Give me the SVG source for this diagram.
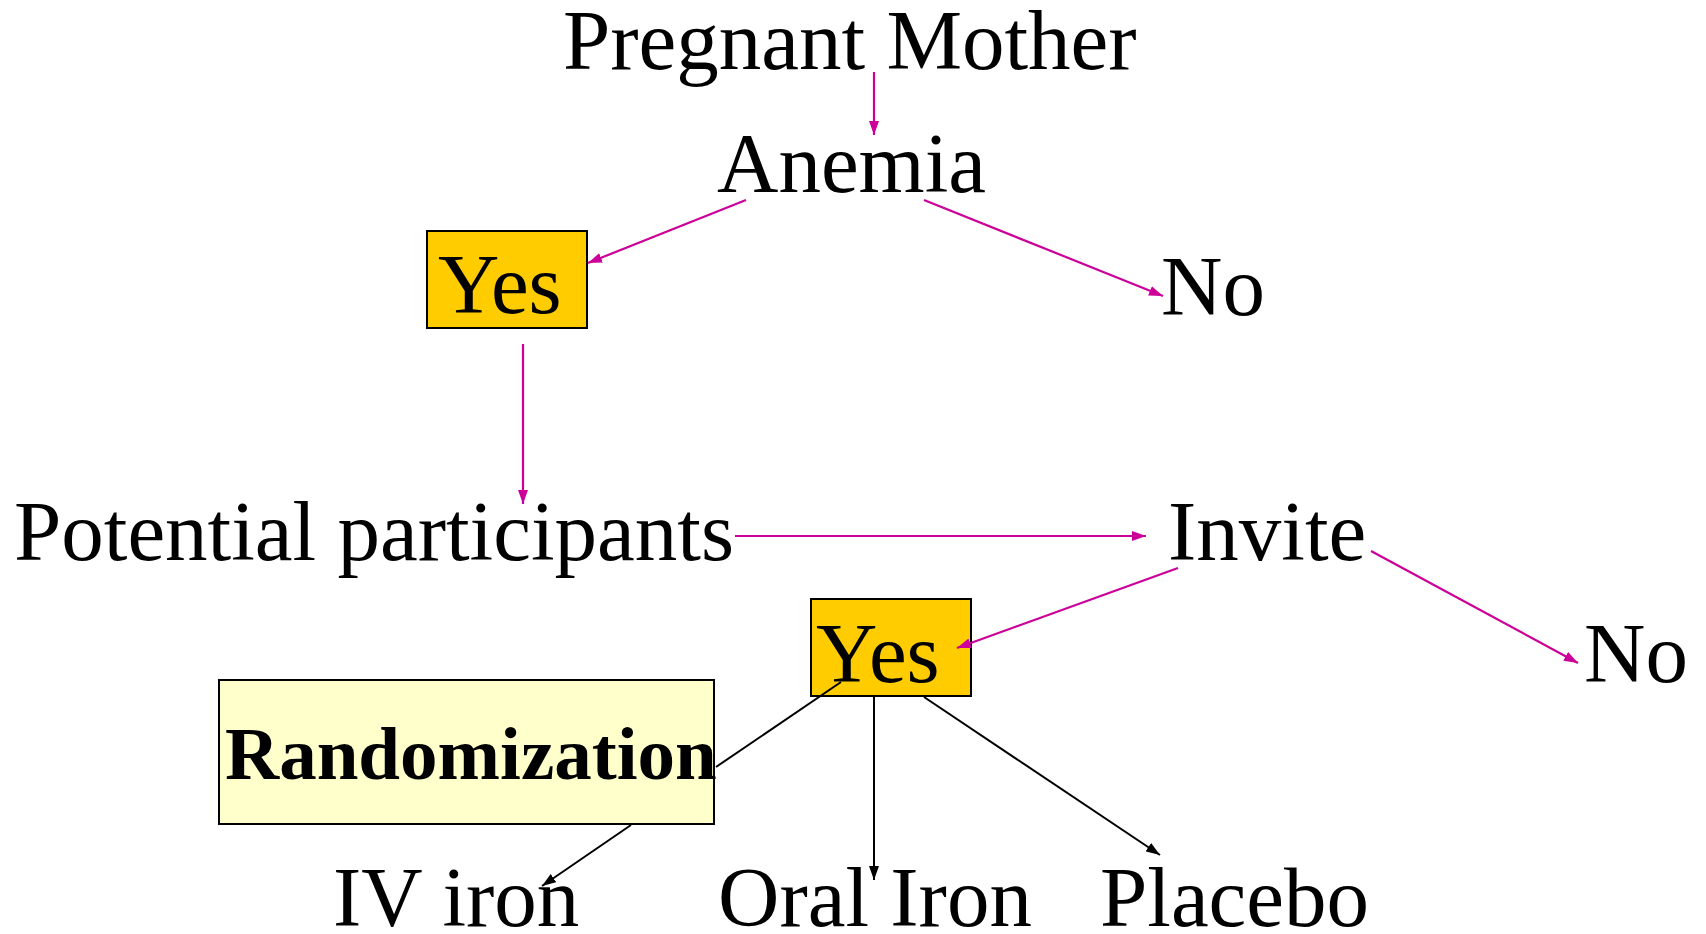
<svg xmlns="http://www.w3.org/2000/svg" width="1706" height="934" viewBox="0 0 1706 934">
  <style>
    .t { font-family: "Liberation Serif", "Times New Roman", serif; font-size: 85px; fill: #000; }
    .b { font-weight: bold; font-size: 75px; }
    .pk { stroke: #CC0099; stroke-width: 2.2; fill: none; }
    .bk { stroke: #000; stroke-width: 2; fill: none; }
    .yes { fill: #FFCC00; stroke: #000; stroke-width: 2; }
    .rnd { fill: #FFFFCC; stroke: #000; stroke-width: 2; }
  </style>
  <defs>
    <marker id="ap" viewBox="0 0 14 10" refX="14" refY="5" markerWidth="14" markerHeight="10" markerUnits="userSpaceOnUse" orient="auto">
      <path d="M0,0 L14,5 L0,10 Z" fill="#CC0099"/>
    </marker>
    <marker id="ab" viewBox="0 0 14 10" refX="14" refY="5" markerWidth="14" markerHeight="10" markerUnits="userSpaceOnUse" orient="auto">
      <path d="M0,0 L14,5 L0,10 Z" fill="#000"/>
    </marker>
  </defs>

  <g id="pregnant-mother"><text class="t" x="563" y="69">Pregnant Mother</text></g>
  <g id="anemia"><text class="t" x="717" y="192">Anemia</text></g>
  <g id="yes-anemia">
    <rect class="yes" x="427" y="231" width="160" height="97"/>
    <text class="t" x="438" y="313">Yes</text>
  </g>
  <g id="no-anemia"><text class="t" x="1161" y="315">No</text></g>
  <g id="potential-participants"><text class="t" x="14" y="560">Potential participants</text></g>
  <g id="invite"><text class="t" x="1168" y="560">Invite</text></g>
  <g id="yes-invite">
    <rect class="yes" x="811" y="599" width="160" height="97"/>
    <text class="t" x="816" y="682">Yes</text>
  </g>
  <g id="no-invite"><text class="t" x="1584" y="682">No</text></g>
  <g id="randomization">
    <rect class="rnd" x="219" y="680" width="495" height="144"/>
    <text class="t b" x="225" y="779">Randomization</text>
  </g>
  <g id="iv-iron"><text class="t" x="333" y="926">IV iron</text></g>
  <g id="oral-iron"><text class="t" x="718" y="926">Oral Iron</text></g>
  <g id="placebo"><text class="t" x="1100" y="926">Placebo</text></g>

  <!-- connectors drawn last so arrowheads sit on top of the boxes -->
  <g id="connectors">
    <line class="pk" x1="874" y1="72" x2="874" y2="135" marker-end="url(#ap)"/>
    <line class="pk" x1="746" y1="200" x2="588" y2="263" marker-end="url(#ap)"/>
    <line class="pk" x1="924" y1="200" x2="1163" y2="296" marker-end="url(#ap)"/>
    <line class="pk" x1="523" y1="344" x2="523" y2="504" marker-end="url(#ap)"/>
    <line class="pk" x1="735" y1="536" x2="1146" y2="536" marker-end="url(#ap)"/>
    <line class="pk" x1="1178" y1="568" x2="957" y2="648" marker-end="url(#ap)"/>
    <line class="pk" x1="1371" y1="551" x2="1578" y2="663" marker-end="url(#ap)"/>
    <line class="bk" x1="841" y1="682" x2="716" y2="767"/>
    <line class="bk" x1="631" y1="825" x2="542" y2="886" marker-end="url(#ab)"/>
    <line class="bk" x1="874" y1="697" x2="874" y2="880" marker-end="url(#ab)"/>
    <line class="bk" x1="924" y1="697" x2="1160" y2="855" marker-end="url(#ab)"/>
  </g>
</svg>
